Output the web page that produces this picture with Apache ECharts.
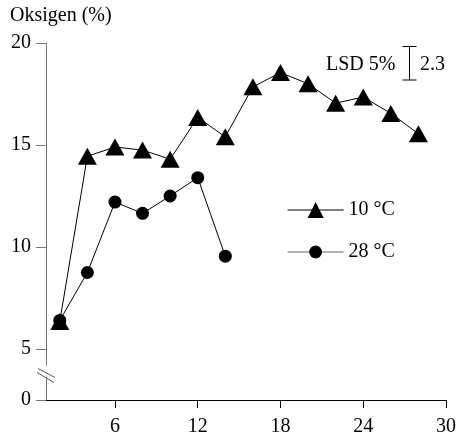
<!DOCTYPE html>
<html>
<head>
<meta charset="utf-8">
<script src="https://cdn.jsdelivr.net/npm/echarts@6/dist/echarts.min.js"></script>
<style>
html,body{margin:0;padding:0;background:#fff;}
#c{width:460px;height:441px;}
</style>
</head>
<body>
<div id="c"></div>
<script>
// Data (days on x, oxygen % on y)
const days10 = [2, 4, 6, 8, 10, 12, 14, 16, 18, 20, 22, 24, 26, 28];
const oxy10  = [6.35, 14.45, 14.9, 14.75, 14.3, 16.35, 15.4, 17.85, 18.55, 18.0, 17.05, 17.35, 16.55, 15.55];
const days28 = [2, 4, 6, 8, 10, 12, 14];
const oxy28  = [6.4, 8.75, 12.2, 11.65, 12.5, 13.4, 9.55];
const xTicks = [6, 12, 18, 24, 30];
const yTicks = [2.5, 5, 10, 15, 20];       // 2.5 is the broken-axis position shown as "0"
const yTickLabels = ['0', '5', '10', '15', '20'];
const seriesNames = ['10 °C', '28 °C'];

const FONT = "'Liberation Serif', 'Times New Roman', serif";
const chart = echarts.init(document.getElementById('c'), null, {renderer: 'canvas'});

const option = {
  animation: false,
  backgroundColor: '#fff',
  title: {
    text: 'Oksigen (%)', left: 5, top: 1,
    textStyle: {fontFamily: FONT, fontSize: 20, fontWeight: 'normal', color: '#000'}
  },
  grid: {left: 46, right: 14, top: 43, bottom: 41, containLabel: false},
  xAxis: {
    type: 'value', min: 1, max: 30,
    axisLine: {show: true, lineStyle: {color: '#000', width: 1}},
    axisTick: {show: true, inside: false, length: 8, customValues: xTicks, lineStyle: {color: '#000'}},
    axisLabel: {customValues: xTicks, margin: 17, fontFamily: FONT, fontSize: 20, color: '#000'},
    splitLine: {show: false}
  },
  yAxis: {
    type: 'value', min: 2.5, max: 20,
    axisLine: {show: true, lineStyle: {color: '#777', width: 1}},
    axisTick: {show: true, length: 10, customValues: yTicks, lineStyle: {color: '#777'}},
    axisLabel: {
      customValues: yTicks, margin: 15, fontFamily: FONT, fontSize: 20, color: '#000',
      formatter: function (v) { const i = yTicks.indexOf(v); return i >= 0 ? yTickLabels[i] : ''; }
    },
    splitLine: {show: false}
  },
  legend: [
    {
      data: [seriesNames[0]], left: 282, top: 195, orient: 'vertical',
      itemWidth: 56, itemHeight: 20,
      textStyle: {fontFamily: FONT, fontSize: 20, color: '#000'},
      lineStyle: {color: '#000', width: 1.2}
    },
    {
      data: [seriesNames[1]], left: 282, top: 237, orient: 'vertical',
      itemWidth: 56, itemHeight: 16,
      textStyle: {fontFamily: FONT, fontSize: 20, color: '#000'},
      lineStyle: {color: '#666', width: 1.2}
    }
  ],
  series: [
    {
      name: seriesNames[0], type: 'line',
      data: days10.map((d, i) => [d, oxy10[i]]),
      symbol: 'triangle', symbolSize: [19, 17], showAllSymbol: true,
      lineStyle: {color: '#000', width: 1},
      itemStyle: {color: '#000'}, z: 3
    },
    {
      name: seriesNames[1], type: 'line',
      data: days28.map((d, i) => [d, oxy28[i]]),
      symbol: 'circle', symbolSize: 13, showAllSymbol: true,
      lineStyle: {color: '#000', width: 1},
      itemStyle: {color: '#000'}, z: 2
    }
  ]
};
chart.setOption(option);

// Axis break marks and LSD annotation
const ax = chart.convertToPixel({xAxisIndex: 0}, 1);
const yBrk = chart.convertToPixel({yAxisIndex: 0}, 3.7);
chart.setOption({
  graphic: [
    {type: 'rect', z: 100, shape: {x: ax - 4, y: yBrk - 10, width: 8, height: 11}, style: {fill: '#fff'}},
    {type: 'line', z: 101, shape: {x1: ax - 8, y1: yBrk - 7, x2: ax + 9, y2: yBrk + 2}, style: {stroke: '#555', lineWidth: 1}},
    {type: 'line', z: 101, shape: {x1: ax - 9, y1: yBrk - 3, x2: ax + 8, y2: yBrk + 7}, style: {stroke: '#555', lineWidth: 1}},
    {type: 'text', z: 101, x: 326, y: 55, style: {text: 'LSD 5%', fontFamily: FONT, fontSize: 20, fill: '#000'}},
    {type: 'line', z: 101, shape: {x1: 409.5, y1: 46.5, x2: 409.5, y2: 80}, style: {stroke: '#000', lineWidth: 1}},
    {type: 'line', z: 101, shape: {x1: 402.5, y1: 46.5, x2: 416.5, y2: 46.5}, style: {stroke: '#000', lineWidth: 1}},
    {type: 'line', z: 101, shape: {x1: 402.5, y1: 80, x2: 416.5, y2: 80}, style: {stroke: '#000', lineWidth: 1}},
    {type: 'text', z: 101, x: 420, y: 55, style: {text: '2.3', fontFamily: FONT, fontSize: 20, fill: '#000'}}
  ]
});
</script>
</body>
</html>
